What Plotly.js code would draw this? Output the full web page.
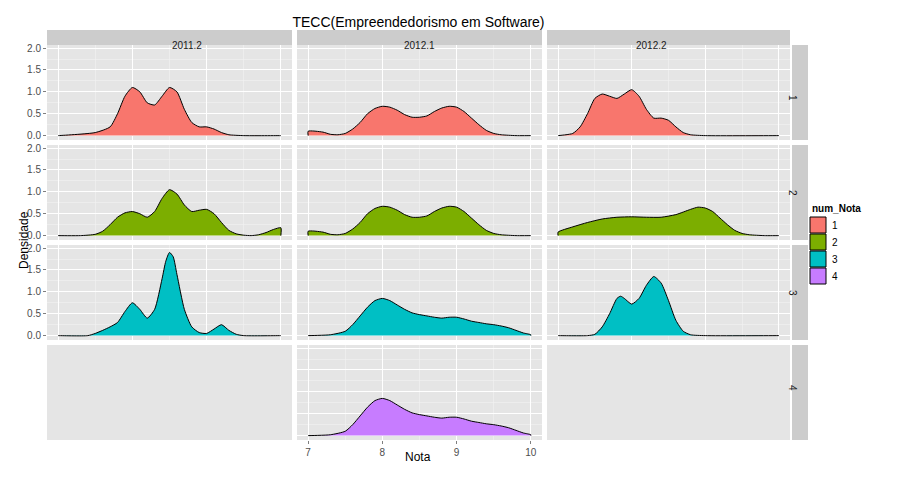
<!DOCTYPE html><html><head><script src="https://cdn.plot.ly/plotly-3.0.1.min.js"></script></head><body style="margin:0"><div id="c" style="width:900px;height:480px"></div><script>
const semesters=["2011.2","2012.1","2012.2"];
const notas=["1","2","3","4"];
const colors=["#F8766D","#7CAE00","#00BFC4","#C77CFF"];
const yTicks=[0,0.5,1,1.5,2];
const xTicks=[7,8,9,10];
// density curves: [row(nota), col(semester), x, y]
const x_r1c1=[7,7.5,7.7,7.8,7.9,8,8.1,8.2,8.3,8.4,8.5,8.6,8.7,8.8,8.9,9,9.1,9.2,9.3,9.5,10];
const y_r1c1=[0,0.07,0.2,0.5,0.9,1.1,1.0,0.75,0.7,0.9,1.1,1.0,0.6,0.3,0.2,0.2,0.15,0.07,0.02,0,0];
const x_r1c2=[7,7.2,7.3,7.4,7.5,7.6,7.7,7.8,7.9,8,8.1,8.2,8.3,8.4,8.5,8.6,8.7,8.8,8.9,9,9.1,9.2,9.3,9.4,9.5,9.6,9.8,10];
const y_r1c2=[0.1,0.08,0.03,0.02,0.05,0.15,0.3,0.5,0.62,0.67,0.65,0.58,0.48,0.42,0.42,0.45,0.55,0.63,0.67,0.65,0.55,0.4,0.25,0.12,0.05,0.02,0,0];
const x_r1c3=[7,7.2,7.3,7.4,7.5,7.6,7.7,7.8,7.9,8,8.1,8.2,8.3,8.4,8.5,8.6,8.7,8.8,9,10];
const y_r1c3=[0,0.05,0.2,0.5,0.85,0.95,0.9,0.85,0.95,1.05,0.9,0.6,0.4,0.4,0.35,0.2,0.07,0.02,0,0];
const x_r2c1=[7,7.3,7.5,7.6,7.7,7.8,7.9,8,8.1,8.2,8.3,8.4,8.5,8.6,8.7,8.8,8.9,9,9.1,9.2,9.3,9.4,9.5,9.6,9.7,9.8,9.9,10];
const y_r2c1=[0,0,0.03,0.1,0.25,0.42,0.52,0.55,0.5,0.42,0.55,0.85,1.05,0.95,0.7,0.55,0.58,0.6,0.5,0.3,0.12,0.04,0.01,0,0.02,0.07,0.14,0.18];
const x_r2c2=x_r1c2;
const y_r2c2=y_r1c2;
const x_r2c3=[7,7.2,7.4,7.6,7.8,8,8.2,8.4,8.6,8.8,8.9,9,9.1,9.2,9.3,9.4,9.5,9.6,9.8,10];
const y_r2c3=[0.08,0.2,0.3,0.38,0.42,0.43,0.42,0.42,0.48,0.6,0.65,0.63,0.55,0.4,0.25,0.12,0.05,0.02,0,0];
const x_r3c1=[7,7.4,7.5,7.6,7.7,7.8,7.9,8,8.1,8.2,8.3,8.4,8.45,8.5,8.55,8.6,8.7,8.8,8.9,9,9.1,9.2,9.3,9.4,9.5,10];
const y_r3c1=[0,0,0.05,0.12,0.2,0.3,0.55,0.75,0.6,0.4,0.6,1.3,1.7,1.9,1.8,1.4,0.6,0.2,0.07,0.05,0.15,0.25,0.12,0.03,0,0];
const x_r3c2=[7,7.3,7.5,7.6,7.7,7.8,7.9,8,8.1,8.2,8.3,8.4,8.5,8.6,8.7,8.8,8.9,9,9.1,9.2,9.3,9.4,9.5,9.6,9.7,9.8,9.9,10];
const y_r3c2=[0,0.02,0.1,0.25,0.45,0.65,0.8,0.85,0.8,0.7,0.6,0.52,0.48,0.45,0.42,0.4,0.42,0.42,0.38,0.33,0.3,0.27,0.25,0.22,0.18,0.12,0.06,0.02];
const x_r3c3=[7,7.4,7.5,7.6,7.7,7.8,7.85,7.9,8,8.1,8.2,8.3,8.4,8.5,8.6,8.7,8.8,9,10];
const y_r3c3=[0,0,0.03,0.2,0.5,0.85,0.9,0.85,0.72,0.85,1.15,1.35,1.2,0.8,0.35,0.1,0.02,0,0];
const x_r4c2=x_r3c2, y_r4c2=y_r3c2;
const curves=[[0,0,x_r1c1,y_r1c1],[0,1,x_r1c2,y_r1c2],[0,2,x_r1c3,y_r1c3],[1,0,x_r2c1,y_r2c1],[1,1,x_r2c2,y_r2c2],[1,2,x_r2c3,y_r2c3],[2,0,x_r3c1,y_r3c1],[2,1,x_r3c2,y_r3c2],[2,2,x_r3c3,y_r3c3],[3,1,x_r4c2,y_r4c2]];

const W=900,H=480;
const colsPx=[[47,292],[297,542],[547,790]];
const rowsPx=[[45,140],[145,240],[245,340],[345,440]];
const layout={width:W,height:H,margin:{l:0,r:0,t:0,b:0},showlegend:false,paper_bgcolor:"white",
 font:{family:"Liberation Sans, Arial",color:"#000"},shapes:[],annotations:[],
 title:{text:"TECC(Empreendedorismo em Software)",x:0.465,xanchor:"center",y:1-22/H,yanchor:"middle",font:{size:14,color:"#000"}}};
for(let r=0;r<4;r++)for(let c=0;c<3;c++){
 const i=r*3+c+1, s=i===1?"":i;
 layout["xaxis"+s]={domain:[colsPx[c][0]/W,colsPx[c][1]/W],anchor:"y"+s,range:[6.85,10.15],tickvals:xTicks,
  showticklabels:r===3,ticks:r===3?"outside":"",ticklen:3,tickcolor:"#7F7F7F",tickfont:{size:10,color:"#4D4D4D"},
  showgrid:true,gridcolor:"#FFFFFF",gridwidth:1,zeroline:false,showline:false,
  minor:{tickvals:[7.5,8.5,9.5],showgrid:true,gridcolor:"#F2F2F2",gridwidth:0.6},fixedrange:true};
 layout["yaxis"+s]={domain:[1-rowsPx[r][1]/H,1-rowsPx[r][0]/H],anchor:"x"+s,range:[-0.1,2.07],tickvals:yTicks,
  ticktext:["0.0","0.5","1.0","1.5","2.0"],showticklabels:c===0,ticks:c===0?"outside":"",ticklen:3,tickcolor:"#7F7F7F",
  tickfont:{size:10,color:"#4D4D4D"},showgrid:true,gridcolor:"#FFFFFF",gridwidth:1,zeroline:false,
  minor:{tickvals:[0.25,0.75,1.25,1.75],showgrid:true,gridcolor:"#F2F2F2",gridwidth:0.6},fixedrange:true};
 layout.shapes.push({type:"rect",xref:"paper",yref:"paper",layer:"below",x0:colsPx[c][0]/W,x1:colsPx[c][1]/W,y0:1-rowsPx[r][1]/H,y1:1-rowsPx[r][0]/H,fillcolor:"#E5E5E5",line:{width:0}});
}
layout.plot_bgcolor="rgba(0,0,0,0)";
for(let c=0;c<3;c++){
 layout.shapes.push({type:"rect",xref:"paper",yref:"paper",x0:colsPx[c][0]/W,x1:colsPx[c][1]/W,y0:1-45/H,y1:1-30/H,fillcolor:"#CCCCCC",line:{width:0}});
 layout.annotations.push({xref:"paper",yref:"paper",x:(colsPx[c][0]+colsPx[c][1])/2/W,y:1-37.5/H,text:semesters[c],showarrow:false,font:{size:10,color:"#1A1A1A"}});
}
for(let r=0;r<4;r++){
 layout.shapes.push({type:"rect",xref:"paper",yref:"paper",x0:792/W,x1:808/W,y0:1-rowsPx[r][1]/H,y1:1-rowsPx[r][0]/H,fillcolor:"#CCCCCC",line:{width:0}});
 layout.annotations.push({xref:"paper",yref:"paper",x:800/W,y:1-(rowsPx[r][0]+rowsPx[r][1])/2/H,text:notas[r],textangle:90,showarrow:false,font:{size:10,color:"#1A1A1A"}});
}
layout.annotations.push({xref:"paper",yref:"paper",x:418/W,y:1-466/H,text:"Nota",showarrow:false,font:{size:12}});
layout.annotations.push({xref:"paper",yref:"paper",x:15/W,y:1-240/H,text:"Densidade",textangle:-90,showarrow:false,font:{size:12}});
layout.annotations.push({xref:"paper",yref:"paper",x:810/W,y:1-208/H,xanchor:"left",text:"<b>num_Nota</b>",showarrow:false,font:{size:10}});
for(let k=0;k<4;k++){
 const y0=217+k*17;
 layout.shapes.push({type:"rect",xref:"paper",yref:"paper",x0:810/W,x1:826/W,y0:1-(y0+16)/H,y1:1-y0/H,fillcolor:colors[k],line:{color:"#000",width:1}});
 layout.annotations.push({xref:"paper",yref:"paper",x:830/W,y:1-(y0+8)/H,xanchor:"left",text:notas[k],showarrow:false,font:{size:10}});
}
const data=curves.map(([r,c,xs,ys])=>{const i=r*3+c+1,s=i===1?"":i;
 return {type:"scatter",mode:"lines",x:[xs[0],...xs,xs[xs.length-1]],y:[0,...ys,0],fill:"toself",fillcolor:colors[r],
  line:{color:"#000",width:1,shape:"spline",smoothing:0.6},xaxis:"x"+s,yaxis:"y"+s,hoverinfo:"skip"};});
Plotly.newPlot("c",data,layout,{displayModeBar:false,staticPlot:true});
</script></body></html>
